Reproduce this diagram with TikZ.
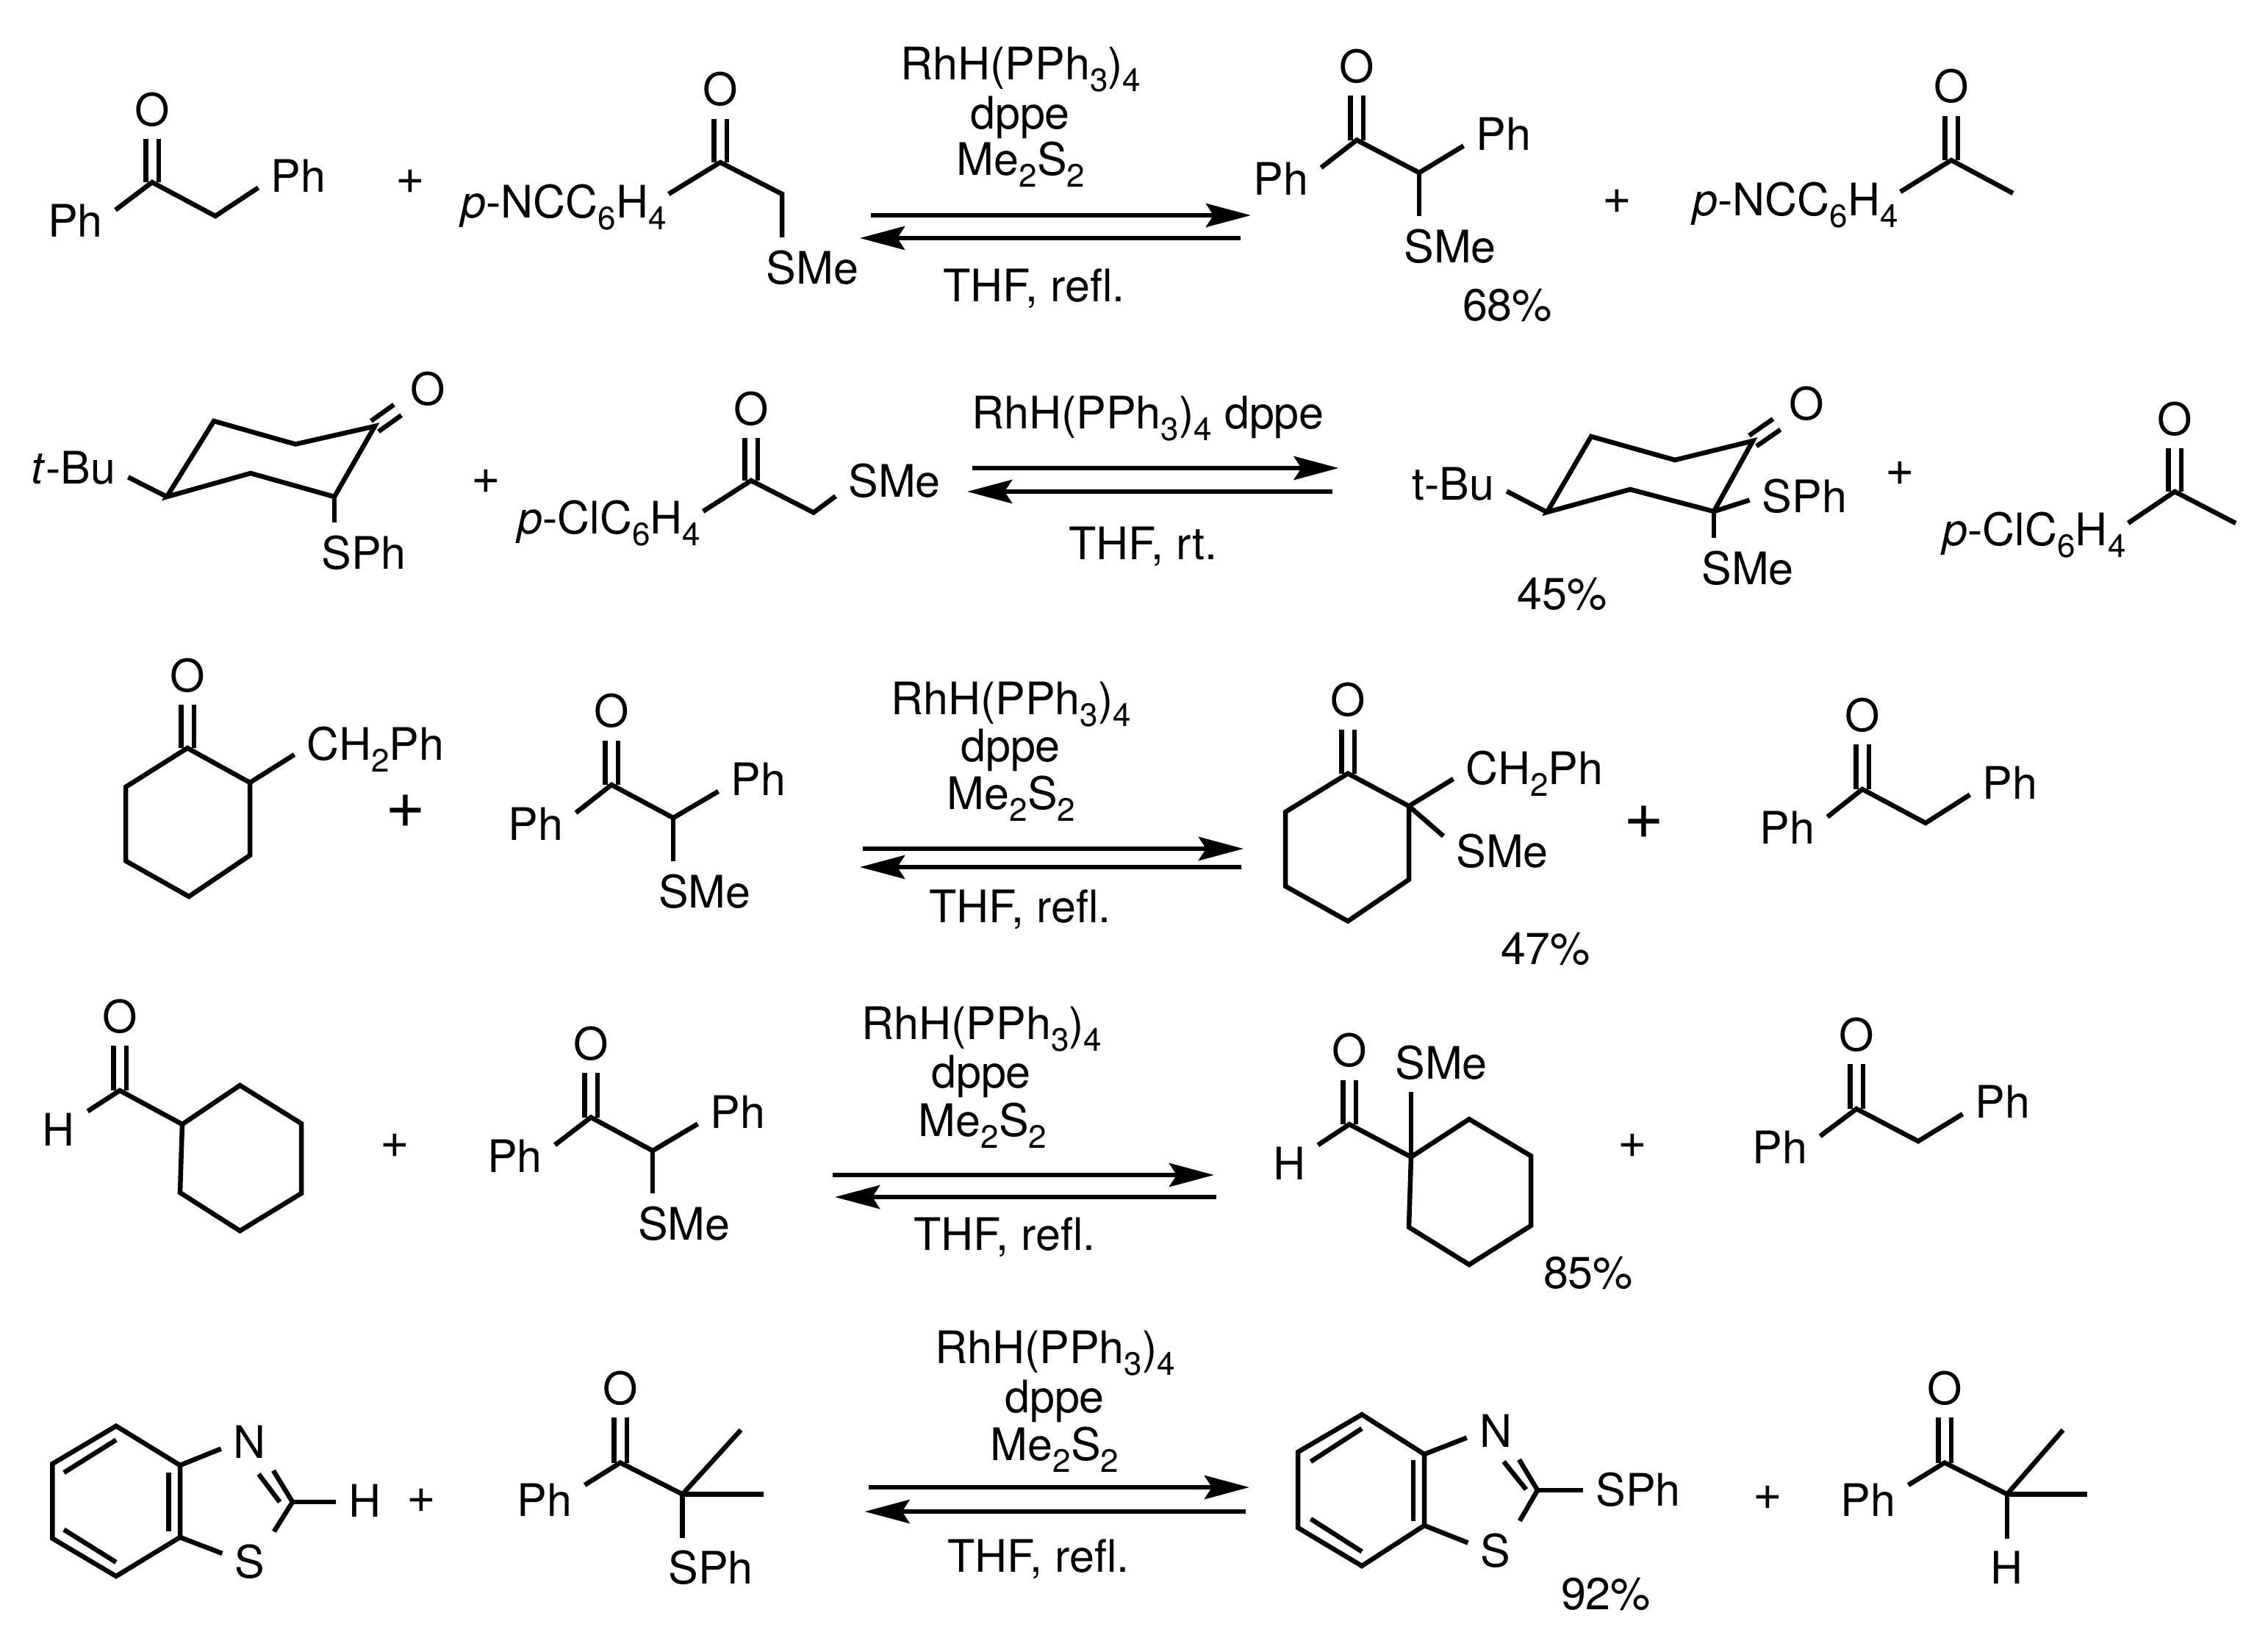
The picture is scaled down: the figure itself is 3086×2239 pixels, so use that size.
\documentclass[tikz,border=0pt]{standalone}
\usepackage{fontspec}
\setmainfont{TeX Gyre Heros}
\usetikzlibrary{arrows.meta}
\newcommand{\dn}[1]{\raisebox{-3.2pt}{\fontsize{8.8}{8.8}\selectfont #1}}
\newcommand{\RhCat}{RhH(PPh\dn{3})\dn{4}}
\newcommand{\MeSS}{Me\dn{2}S\dn{2}}
\tikzset{
  atom/.style={anchor=base, inner sep=2.8pt},
  aryl/.style={anchor=base, inner sep=0pt},
  plussign/.style={inner sep=0pt, font=\fontsize{13.6}{14}\selectfont},
  bigplus/.style={inner sep=0pt, font=\fontsize{18.8}{19}\selectfont},
  dbl/.style={double, double distance=2.2pt},
  fwdarrow/.style={-{Stealth[length=12.2pt,width=6.4pt,inset=2pt]}},
  backarrow/.style={{Stealth[length=12.2pt,width=6.4pt,inset=2pt]}-}
}
\begin{document}
\begin{tikzpicture}[x=0.2pt, y=-0.2pt, line width=1.3pt, line join=miter,
  every node/.style={font=\fontsize{12.2}{14}\selectfont}]
\useasboundingbox (0,0) rectangle (3086,2239);
% row 1
\coordinate (C1a) at (207,248); \coordinate (C1b) at (293,294);
\node[atom] (O1a) at (207,171) {O};
\node[atom] (Ph1a) at (102.5,322.6) {Ph};
\node[atom] (Ph1b) at (406,261) {Ph};
\draw[dbl] (C1a) -- (O1a);
\draw (Ph1a.15) -- (C1a) -- (C1b) -- (Ph1b.197);
\node[plussign] (P1a) at (558,247) {+};
\coordinate (C1c) at (980,221); \coordinate (C1d) at (1064,264);
\node[atom] (O1c) at (980,143.5) {O};
\node[aryl] (Ar1c) at (767,296) {\textit{p}-NCC\dn{6}H\dn{4}};
\node[atom] (SMe1c) at (1105.5,386) {SMe};
\draw[dbl] (C1c) -- (O1c);
\draw (Ar1c.7) -- (C1c) -- (C1d) -- (C1d |- SMe1c.north);
\coordinate (A1a) at (1185,293); \coordinate (A1b) at (1702,293);
\coordinate (A1c) at (1170,324); \coordinate (A1d) at (1688,324);
\draw[fwdarrow] (A1a) -- (A1b);
\draw[backarrow] (A1c) -- (A1d);
\node[atom] (R1a) at (1389,108) {\RhCat};
\node[atom] (R1b) at (1388,175) {dppe};
\node[atom] (R1c) at (1389,238) {\MeSS};
\node[atom] (R1d) at (1407,410) {THF, refl.};
\coordinate (C1e) at (1846,190.6); \coordinate (C1f) at (1931,235);
\node[atom] (O1e) at (1846,112) {O};
\node[atom] (Ph1e) at (1743,265) {Ph};
\node[atom] (Ph1f) at (2046,204) {Ph};
\node[atom] (SMe1f) at (1973,357) {SMe};
\draw[dbl] (C1e) -- (O1e);
\draw (Ph1e.15) -- (C1e) -- (C1f) -- (Ph1f.197);
\draw (C1f) -- (C1f |- SMe1f.north);
\node[atom] (Y1) at (2051,436) {68\%};
\node[plussign] (P1b) at (2200,274) {+};
\coordinate (C1g) at (2655,218); \coordinate (C1h) at (2739,263);
\node[atom] (O1g) at (2655,139.5) {O};
\node[aryl] (Ar1g) at (2443,293) {\textit{p}-NCC\dn{6}H\dn{4}};
\draw[dbl] (C1g) -- (O1g);
\draw (Ar1g.7) -- (C1g) -- (C1h);
% row 2
\coordinate (C2a) at (227,676); \coordinate (C2b) at (291,573); \coordinate (C2c) at (402,604.5);
\coordinate (C2d) at (510,580); \coordinate (C2e) at (455,676); \coordinate (C2f) at (341,644);
\node[atom] (O2a) at (582,551) {O};
\node[atom] (tBu2a) at (100,658) {\textit{t}-Bu};
\node[atom] (SPh2a) at (495,774) {SPh};
\draw[dbl] (C2d) -- (O2a);
\draw (C2a) -- (C2b) -- (C2c) -- (C2d) -- (C2e) -- (C2f) -- cycle;
\draw (tBu2a.350) -- (C2a);
\draw (C2e) -- (C2e |- SPh2a.north);
\node[plussign] (P2a) at (661,655.6) {+};
\coordinate (C2g) at (1022,654); \coordinate (C2h) at (1107,697.5);
\node[atom] (O2g) at (1022,578) {O};
\node[aryl] (Ar2g) at (829,726) {\textit{p}-ClC\dn{6}H\dn{4}};
\node[atom] (SMe2h) at (1217,676) {SMe};
\draw[dbl] (C2g) -- (O2g);
\draw (Ar2g.7) -- (C2g) -- (C2h) -- (SMe2h.195);
\coordinate (A2a) at (1323,637); \coordinate (A2b) at (1821.6,637);
\coordinate (A2c) at (1316,669); \coordinate (A2d) at (1813,669);
\draw[fwdarrow] (A2a) -- (A2b);
\draw[backarrow] (A2c) -- (A2d);
\node[atom] (R2a) at (1562,583) {\RhCat{} dppe};
\node[atom] (R2b) at (1555.5,761) {THF, rt.};
\coordinate (C2i) at (2105,697); \coordinate (C2j) at (2165,594); \coordinate (C2k) at (2279,626);
\coordinate (C2l) at (2385,600); \coordinate (C2m) at (2332,696); \coordinate (C2n) at (2218,666);
\node[atom] (O2l) at (2458.5,571) {O};
\node[atom] (tBu2i) at (1977,680) {t-Bu};
\node[atom] (SPh2m) at (2455.5,697.5) {SPh};
\node[atom] (SMe2m) at (2378,795) {SMe};
\draw[dbl] (C2l) -- (O2l);
\draw (C2i) -- (C2j) -- (C2k) -- (C2l) -- (C2m) -- (C2n) -- cycle;
\draw (tBu2i.352) -- (C2i);
\draw (C2m) -- (SPh2m.184);
\draw (C2m) -- (C2m |- SMe2m.north);
\node[atom] (Y2) at (2125.5,829.5) {45\%};
\node[plussign] (P2b) at (2585,644) {+};
\coordinate (C2o) at (2959,669); \coordinate (C2p) at (3042,712);
\node[atom] (O2o) at (2959,592) {O};
\node[aryl] (Ar2o) at (2768,742) {\textit{p}-ClC\dn{6}H\dn{4}};
\draw[dbl] (C2o) -- (O2o);
\draw (Ar2o.7) -- (C2o) -- (C2p);
% row 3
\coordinate (C3a) at (255,1018); \coordinate (C3b) at (340,1065); \coordinate (C3c) at (340,1164);
\coordinate (C3d) at (257,1220); \coordinate (C3e) at (171,1171.5); \coordinate (C3f) at (171,1071);
\node[atom] (O3a) at (255,941) {O};
\node[atom] (Bn3b) at (511,1034) {CH\dn{2}Ph};
\draw[dbl] (C3a) -- (O3a);
\draw (C3a) -- (C3b) -- (C3c) -- (C3d) -- (C3e) -- (C3f) -- cycle;
\draw (C3b) -- (Bn3b.184);
\node[bigplus] (P3a) at (552,1104) {+};
\coordinate (C3g) at (832,1068); \coordinate (C3h) at (916,1113);
\node[atom] (O3g) at (832,989.5) {O};
\node[atom] (Ph3g) at (729,1143) {Ph};
\node[atom] (Ph3h) at (1032,1082.5) {Ph};
\node[atom] (SMe3h) at (959,1235) {SMe};
\draw[dbl] (C3g) -- (O3g);
\draw (Ph3g.15) -- (C3g) -- (C3h) -- (Ph3h.197);
\draw (C3h) -- (C3h |- SMe3h.north);
\coordinate (A3a) at (1173.5,1155); \coordinate (A3b) at (1692,1155);
\coordinate (A3c) at (1170,1180); \coordinate (A3d) at (1689,1180);
\draw[fwdarrow] (A3a) -- (A3b);
\draw[backarrow] (A3c) -- (A3d);
\node[atom] (R3a) at (1375.5,972) {\RhCat};
\node[atom] (R3b) at (1375,1036.6) {dppe};
\node[atom] (R3c) at (1376,1101) {\MeSS};
\node[atom] (R3d) at (1388,1255) {THF, refl.};
\coordinate (C3i) at (1834,1052.6); \coordinate (C3j) at (1917,1097); \coordinate (C3k) at (1917,1197);
\coordinate (C3l) at (1834,1253.6); \coordinate (C3m) at (1749,1206); \coordinate (C3n) at (1749,1105);
\node[atom] (O3i) at (1834,974.6) {O};
\node[atom] (Bn3j) at (2088,1067) {CH\dn{2}Ph};
\node[atom] (SMe3j) at (2044,1180) {SMe};
\draw[dbl] (C3i) -- (O3i);
\draw (C3i) -- (C3j) -- (C3k) -- (C3l) -- (C3m) -- (C3n) -- cycle;
\draw (C3j) -- (Bn3j.184);
\draw (C3j) -- (SMe3j.166);
\node[atom] (Y3) at (2103,1312) {47\%};
\node[bigplus] (P3b) at (2236.5,1119) {+};
\coordinate (C3o) at (2534,1074); \coordinate (C3p) at (2620,1120);
\node[atom] (O3o) at (2534,995) {O};
\node[atom] (Ph3o) at (2432,1148.5) {Ph};
\node[atom] (Ph3p) at (2735,1087) {Ph};
\draw[dbl] (C3o) -- (O3o);
\draw (Ph3o.15) -- (C3o) -- (C3p) -- (Ph3p.197);
% row 4
\coordinate (C4a) at (163,1484); \coordinate (C4b) at (248,1530); \coordinate (C4c) at (326.5,1477);
\coordinate (C4d) at (410,1529); \coordinate (C4e) at (410,1624); \coordinate (C4f) at (326.5,1675);
\coordinate (C4g) at (245,1623);
\node[atom] (O4a) at (163,1405) {O};
\node[atom] (H4a) at (80,1559) {H};
\draw[dbl] (C4a) -- (O4a);
\draw (H4a.32) -- (C4a) -- (C4b);
\draw (C4b) -- (C4c) -- (C4d) -- (C4e) -- (C4f) -- (C4g) -- cycle;
\node[plussign] (P4a) at (537,1559) {+};
\coordinate (C4h) at (804,1520.5); \coordinate (C4i) at (888,1566);
\node[atom] (O4h) at (804,1442) {O};
\node[atom] (Ph4h) at (700.5,1595) {Ph};
\node[atom] (Ph4i) at (1004,1535) {Ph};
\node[atom] (SMe4i) at (931,1687) {SMe};
\draw[dbl] (C4h) -- (O4h);
\draw (Ph4h.15) -- (C4h) -- (C4i) -- (Ph4i.197);
\draw (C4i) -- (C4i |- SMe4i.north);
\coordinate (A4a) at (1133,1599); \coordinate (A4b) at (1652,1599);
\coordinate (A4c) at (1136,1629); \coordinate (A4d) at (1655,1629);
\draw[fwdarrow] (A4a) -- (A4b);
\draw[backarrow] (A4c) -- (A4d);
\node[atom] (R4a) at (1336,1414) {\RhCat};
\node[atom] (R4b) at (1335,1480) {dppe};
\node[atom] (R4c) at (1337,1546) {\MeSS};
\node[atom] (R4d) at (1367,1701) {THF, refl.};
\coordinate (C4j) at (1836,1530); \coordinate (C4k) at (1920,1574.5); \coordinate (C4l) at (1999,1523);
\coordinate (C4m) at (2083,1573); \coordinate (C4n) at (2083,1668); \coordinate (C4o) at (1999,1721);
\coordinate (C4p) at (1917,1670);
\node[atom] (O4j) at (1836,1451.6) {O};
\node[atom] (H4j) at (1754,1605) {H};
\node[atom] (SMe4k) at (1961,1468) {SMe};
\draw[dbl] (C4j) -- (O4j);
\draw (H4j.32) -- (C4j) -- (C4k);
\draw (C4k) -- (C4l) -- (C4m) -- (C4n) -- (C4o) -- (C4p) -- cycle;
\draw (C4k) -- (C4k |- SMe4k.south);
\node[atom] (Y4) at (2161,1753) {85\%};
\node[plussign] (P4b) at (2221,1559) {+};
\coordinate (C4q) at (2526,1509); \coordinate (C4r) at (2610,1553);
\node[atom] (O4q) at (2526,1430) {O};
\node[atom] (Ph4q) at (2422,1583) {Ph};
\node[atom] (Ph4r) at (2725,1521.6) {Ph};
\draw[dbl] (C4q) -- (O4q);
\draw (Ph4q.15) -- (C4q) -- (C4r) -- (Ph4r.197);
% row 5
\coordinate (C5a) at (158,1940.6); \coordinate (C5b) at (245,1994); \coordinate (C5c) at (245,2092);
\coordinate (C5d) at (158,2145); \coordinate (C5e) at (71.4,2093.6); \coordinate (C5f) at (71.4,1992);
\coordinate (C5g) at (398,2044);
\coordinate (I5a) at (158,1959.5); \coordinate (I5b) at (87,2004);
\coordinate (I5c) at (229.6,2004); \coordinate (I5d) at (229.6,2084);
\coordinate (I5e) at (87,2081.6); \coordinate (I5f) at (158,2126);
\coordinate (I5g) at (352,2006); \coordinate (I5h) at (380.6,2044);
\node[atom] (N5a) at (340,1984) {N};
\node[atom] (S5a) at (340,2147) {S};
\node[atom] (H5a) at (496.5,2064) {H};
\draw (C5a) -- (C5b) -- (C5c) -- (C5d) -- (C5e) -- (C5f) -- cycle;
\draw (I5a) -- (I5b); \draw (I5c) -- (I5d); \draw (I5e) -- (I5f); \draw (I5g) -- (I5h);
\draw (C5b) -- (N5a.194);
\draw (N5a.309) -- (C5g) -- (S5a.51);
\draw (C5c) -- (S5a.164);
\draw (C5g) -- (C5g -| H5a.west);
\node[plussign] (P5a) at (573.5,2042) {+};
\coordinate (C5h) at (844,1990.5); \coordinate (C5i) at (928.6,2033.4);
\coordinate (C5j) at (1008,1946); \coordinate (C5k) at (1039,2033.4);
\node[atom] (O5h) at (844,1911) {O};
\node[atom] (Ph5h) at (741,2063) {Ph};
\node[atom] (SPh5i) at (967,2155.5) {SPh};
\draw[dbl] (C5h) -- (O5h);
\draw (Ph5h.20) -- (C5h) -- (C5i) -- (C5j);
\draw (C5i) -- (C5k);
\draw (C5i) -- (C5i |- SPh5i.north);
\coordinate (A5a) at (1182,2024); \coordinate (A5b) at (1700,2024);
\coordinate (A5c) at (1176.5,2057); \coordinate (A5d) at (1695,2057);
\draw[fwdarrow] (A5a) -- (A5b);
\draw[backarrow] (A5c) -- (A5d);
\node[atom] (R5a) at (1435.5,1855) {\RhCat};
\node[atom] (R5b) at (1435,1922) {dppe};
\node[atom] (R5c) at (1435,1987) {\MeSS};
\node[atom] (R5d) at (1413,2139) {THF, refl.};
\coordinate (C5l) at (1853,1925); \coordinate (C5m) at (1938,1979); \coordinate (C5n) at (1938,2076);
\coordinate (C5o) at (1853,2131); \coordinate (C5p) at (1766,2079); \coordinate (C5q) at (1766,1976);
\coordinate (C5r) at (2092,2028);
\coordinate (I5i) at (1853,1944); \coordinate (I5j) at (1783.5,1989);
\coordinate (I5k) at (1923,1987); \coordinate (I5l) at (1923,2069.5);
\coordinate (I5m) at (1783.5,2067); \coordinate (I5n) at (1853,2111.5);
\coordinate (I5o) at (2046,1989); \coordinate (I5p) at (2076.5,2027);
\node[atom] (N5l) at (2035,1969) {N};
\node[atom] (S5l) at (2035,2132.5) {S};
\node[atom] (SPh5r) at (2229,2049.6) {SPh};
\draw (C5l) -- (C5m) -- (C5n) -- (C5o) -- (C5p) -- (C5q) -- cycle;
\draw (I5i) -- (I5j); \draw (I5k) -- (I5l); \draw (I5m) -- (I5n); \draw (I5o) -- (I5p);
\draw (C5m) -- (N5l.194);
\draw (N5l.309) -- (C5r) -- (S5l.51);
\draw (C5n) -- (S5l.164);
\draw (C5r) -- (C5r -| SPh5r.west);
\node[atom] (Y5) at (2185,2190.5) {92\%};
\node[plussign] (P5b) at (2405,2038.6) {+};
\coordinate (C5s) at (2646,1990.5); \coordinate (C5t) at (2731,2033.4);
\coordinate (C5u) at (2807,1946); \coordinate (C5v) at (2840,2033.4);
\node[atom] (O5s) at (2646,1911) {O};
\node[atom] (Ph5s) at (2542,2063) {Ph};
\node[atom] (H5t) at (2730,2155.5) {H};
\draw[dbl] (C5s) -- (O5s);
\draw (Ph5s.20) -- (C5s) -- (C5t) -- (C5u);
\draw (C5t) -- (C5v);
\draw (C5t) -- (C5t |- H5t.north);
\end{tikzpicture}
\end{document}
